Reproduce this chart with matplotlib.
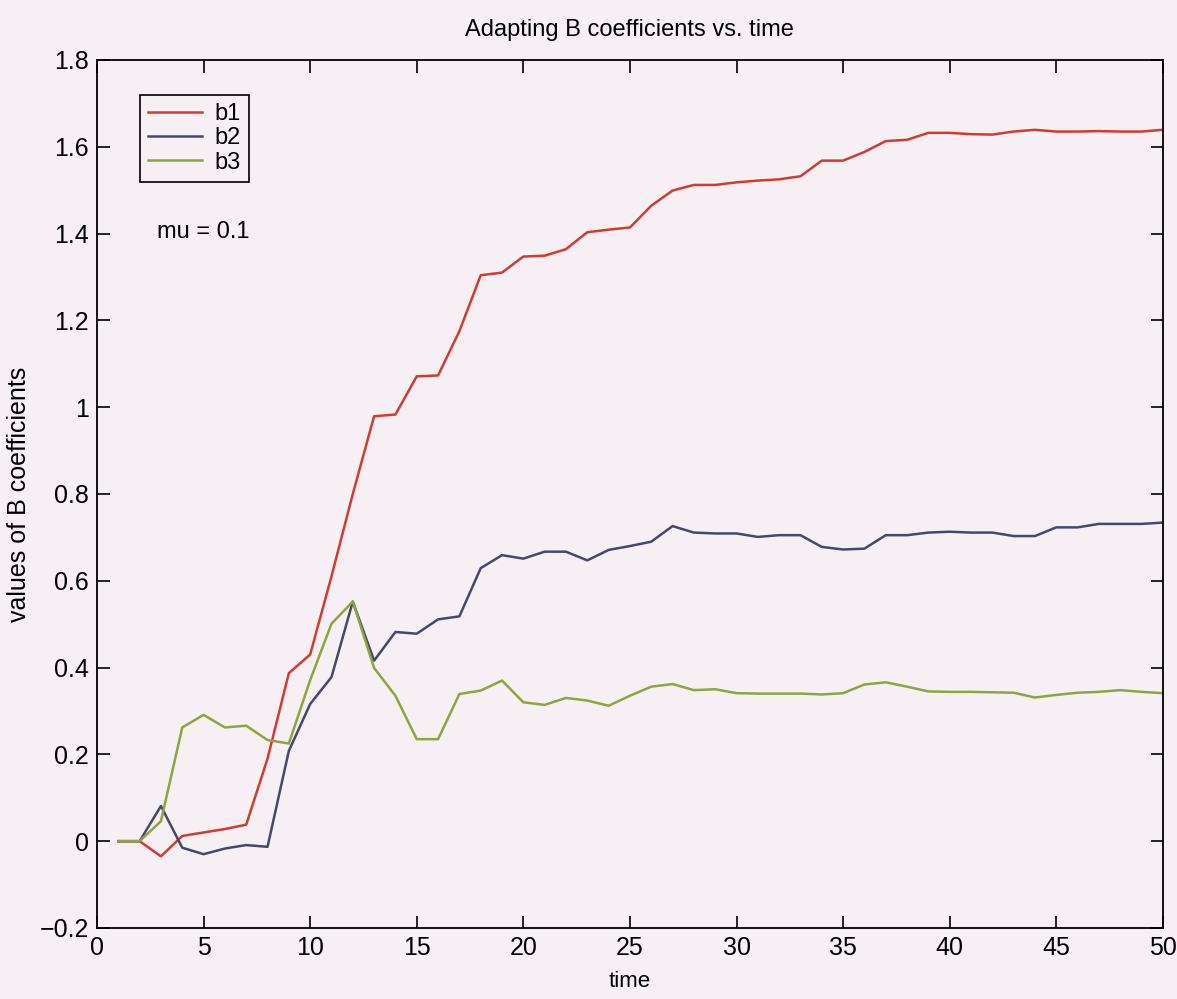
import numpy as np
import matplotlib
matplotlib.use("Agg")
import matplotlib.pyplot as plt
from matplotlib.ticker import FuncFormatter

plt.rcParams['font.family'] = ['Liberation Sans', 'DejaVu Sans']

# time steps
t = np.arange(1, 51)

# adapting coefficients
b1 = [0, 0, -0.035, 0.012, 0.02, 0.028, 0.038, 0.19, 0.387, 0.43,
      0.61, 0.80, 0.979, 0.983, 1.071, 1.073, 1.175, 1.304, 1.31, 1.347,
      1.349, 1.364, 1.403, 1.409, 1.414, 1.464, 1.499, 1.512, 1.512, 1.518,
      1.522, 1.525, 1.532, 1.568, 1.568, 1.588, 1.613, 1.616, 1.632, 1.632,
      1.629, 1.628, 1.635, 1.639, 1.635, 1.635, 1.636, 1.635, 1.635, 1.639]
b2 = [0, 0, 0.081, -0.015, -0.03, -0.017, -0.009, -0.013, 0.208, 0.316,
      0.378, 0.552, 0.416, 0.482, 0.478, 0.511, 0.518, 0.629, 0.659, 0.651,
      0.667, 0.667, 0.647, 0.671, 0.680, 0.690, 0.726, 0.711, 0.709, 0.709,
      0.701, 0.705, 0.705, 0.678, 0.672, 0.674, 0.705, 0.705, 0.711, 0.713,
      0.711, 0.711, 0.703, 0.703, 0.723, 0.723, 0.731, 0.731, 0.731, 0.734]
b3 = [0, 0, 0.046, 0.262, 0.291, 0.262, 0.266, 0.233, 0.225, 0.371,
      0.501, 0.552, 0.399, 0.335, 0.235, 0.235, 0.339, 0.347, 0.370, 0.320,
      0.314, 0.330, 0.324, 0.312, 0.335, 0.356, 0.362, 0.348, 0.350, 0.341,
      0.340, 0.340, 0.340, 0.338, 0.341, 0.361, 0.366, 0.356, 0.345, 0.344,
      0.344, 0.343, 0.342, 0.331, 0.337, 0.342, 0.344, 0.348, 0.344, 0.341]

bg = '#f6f0f4'
fig = plt.figure(figsize=(11.77, 9.99), dpi=100, facecolor=bg)
ax = fig.add_axes([0.0824, 0.0711, 0.9056, 0.8689], facecolor=bg)

ax.plot(t, b1, color='#d23a32', lw=1.8, label='b1')
ax.plot(t, b2, color='#47476e', lw=1.8, label='b2')
ax.plot(t, b3, color='#8fa43e', lw=1.8, label='b3')

ax.set_xlim(0, 50)
ax.set_ylim(-0.2, 1.8)
ax.set_xticks(np.arange(0, 51, 5))
ax.set_yticks(np.arange(-0.2, 1.81, 0.2))
ax.yaxis.set_major_formatter(FuncFormatter(lambda v, p: ('%g' % round(v, 2)).replace('-', '\u2212')))
ax.tick_params(direction='in', top=True, right=True, length=9, width=1.2,
               labelsize=18, pad=6)
for s in ax.spines.values():
    s.set_linewidth(1.3)

ax.set_title('Adapting B coefficients vs. time', fontsize=17, pad=17)
ax.set_xlabel('time', fontsize=16, labelpad=8)
ax.set_ylabel('values of B coefficients', fontsize=18, labelpad=6)

leg = ax.legend(loc='upper left', bbox_to_anchor=(0.040, 0.96), borderaxespad=0,
                fancybox=False, fontsize=17, handlelength=2.3, handletextpad=0.5,
                labelspacing=0.1, borderpad=0.35, facecolor=bg, framealpha=1)
leg.get_frame().set_edgecolor('black')
leg.get_frame().set_linewidth(1.2)

ax.text(0.056, 0.802, 'mu = 0.1', transform=ax.transAxes, fontsize=17, va='center')

fig.savefig('out.png', dpi=100, facecolor=bg)
